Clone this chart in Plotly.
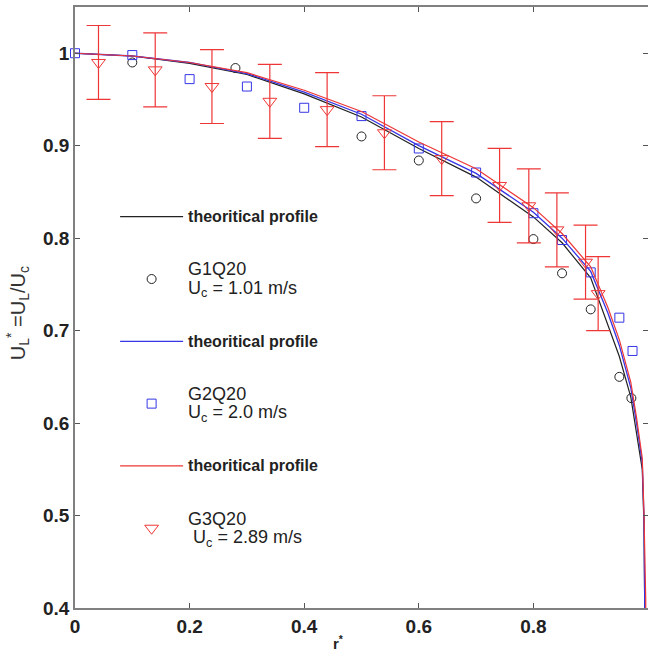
import plotly.graph_objects as go

# theoretical profiles
r_theory = [0, 0.1, 0.2, 0.3, 0.4, 0.5, 0.6, 0.7, 0.8, 0.85, 0.9, 0.93, 0.95,
            0.97, 0.98, 0.99, 0.993, 0.996, 1.0]
u_theory_g1 = [1.0, 0.997, 0.989, 0.977, 0.956, 0.931, 0.897, 0.866, 0.823, 0.795,
               0.757, 0.707, 0.672, 0.628, 0.59, 0.55, 0.49, 0.40, 0.0]
u_theory_g2 = [1.0, 0.997, 0.99, 0.978, 0.958, 0.934, 0.900, 0.870, 0.828, 0.800,
               0.764, 0.719, 0.684, 0.638, 0.60, 0.557, 0.497, 0.405, 0.0]
u_theory_g3 = [1.0, 0.997, 0.99, 0.979, 0.96, 0.937, 0.904, 0.875, 0.833, 0.805,
               0.769, 0.725, 0.69, 0.644, 0.606, 0.562, 0.502, 0.41, 0.0]

# measurements
r_g1 = [0.1, 0.28, 0.5, 0.6, 0.7, 0.8, 0.85, 0.9, 0.95, 0.971]
u_g1 = [0.990, 0.984, 0.910, 0.884, 0.843, 0.799, 0.762, 0.723, 0.650, 0.627]

r_g2 = [0.0, 0.1, 0.2, 0.3, 0.4, 0.5, 0.6, 0.7, 0.8, 0.85, 0.9, 0.95, 0.973]
u_g2 = [1.0, 0.998, 0.972, 0.964, 0.941, 0.932, 0.897, 0.871, 0.827, 0.798, 0.763, 0.714, 0.678]

r_g3 = [0.041, 0.14, 0.239, 0.34, 0.44, 0.54, 0.64, 0.741, 0.792, 0.841, 0.891, 0.913]
u_g3 = [0.990, 0.982, 0.964, 0.948, 0.939, 0.914, 0.886, 0.857, 0.835, 0.809, 0.774, 0.740]
err_g3 = [0.04, 0.04, 0.04, 0.04, 0.04, 0.04, 0.04, 0.04, 0.04, 0.04, 0.04, 0.04]

BLACK = '#222222'
BLUE = '#3535e6'
RED = '#ee3636'


def theory_label():
    return '<span style="font-size:16px"><b>theoritical profile</b></span>'


def data_label(run, speed, lead=''):
    return ('<span style="font-size:18px">' + run + '</span><br>'
            '<span style="font-size:18px">' + lead + 'U<sub>c</sub> = ' + speed + ' m/s</span>')


fig = go.Figure()

fig.add_trace(go.Scatter(x=r_theory, y=u_theory_g1, mode='lines', name=theory_label(),
                         line=dict(color=BLACK, width=1.2), legendgroup='a'))
fig.add_trace(go.Scatter(x=r_g1, y=u_g1, mode='markers', name=data_label('G1Q20', '1.01'),
                         marker=dict(symbol='circle-open', size=9, color=BLACK, line=dict(width=1)),
                         legendgroup='b', cliponaxis=False))
fig.add_trace(go.Scatter(x=r_theory, y=u_theory_g2, mode='lines', name=theory_label(),
                         line=dict(color=BLUE, width=1.3), legendgroup='c'))
fig.add_trace(go.Scatter(x=r_g2, y=u_g2, mode='markers', name=data_label('G2Q20', '2.0'),
                         marker=dict(symbol='square-open', size=9, color=BLUE, line=dict(width=1)),
                         legendgroup='d', cliponaxis=False))
fig.add_trace(go.Scatter(x=r_theory, y=u_theory_g3, mode='lines', name=theory_label(),
                         line=dict(color=RED, width=1.2), legendgroup='e'))
fig.add_trace(go.Scatter(x=r_g3, y=u_g3, mode='markers', name=data_label('G3Q20', '2.89', '\u00a0'),
                         marker=dict(symbol='triangle-down-open', size=12, color=RED, line=dict(width=1)),
                         error_y=dict(type='data', array=err_g3, color=RED, thickness=1.2, width=12),
                         legendgroup='f', cliponaxis=False))

axis_common = dict(showline=True, linecolor='#808080', linewidth=1.5, mirror='ticks',
                   ticks='inside', ticklen=5, tickcolor='#555555', showgrid=False, zeroline=False,
                   automargin=False,
                   tickfont=dict(family='Liberation Sans, Arial', size=19, color='#222222'))

fig.update_xaxes(range=[0, 1], tickvals=[0, 0.2, 0.4, 0.6, 0.8, 1],
                 ticktext=['<b>0</b>', '<b>0.2</b>', '<b>0.4</b>', '<b>0.6</b>', '<b>0.8</b>', '<b>1</b>'],
                 **axis_common)
fig.update_yaxes(range=[0.4, 1.05], tickvals=[0.4, 0.5, 0.6, 0.7, 0.8, 0.9, 1.0],
                 ticktext=['<b>0.4</b>', '<b>0.5</b>', '<b>0.6</b>', '<b>0.7</b>', '<b>0.8</b>', '<b>0.9</b>', '<b>1</b>'],
                 **axis_common)

# axis titles
fig.add_annotation(text='<b>r<sup>*</sup></b>', xref='paper', yref='paper', x=0.459, y=-0.058,
                   xanchor='center', yanchor='middle', showarrow=False, font=dict(size=15))
fig.add_annotation(text='U<sub>L</sub><sup>*</sup> =U<sub>L</sub>/U<sub>c</sub>', xref='paper', yref='paper',
                   x=-0.1, y=0.49, xanchor='center', yanchor='middle', textangle=-90,
                   showarrow=False, font=dict(size=20, color='#333333'))

fig.update_layout(
    width=648, height=657,
    margin=dict(l=75, r=0, t=7, b=49),
    plot_bgcolor='white', paper_bgcolor='white',
    font=dict(family='Liberation Sans, Arial', color='#222222'),
    legend=dict(x=0.07, y=0.677, xanchor='left', yanchor='top',
                bgcolor='rgba(0,0,0,0)', font=dict(size=14),
                traceorder='grouped', tracegroupgap=32, itemwidth=63),
)

# drop the default page margin so the figure sits at the window corner
fig.write_html("out.html", config={'displayModeBar': False},
               post_script="document.body.style.margin='0px'; document.body.style.overflow='hidden';")
